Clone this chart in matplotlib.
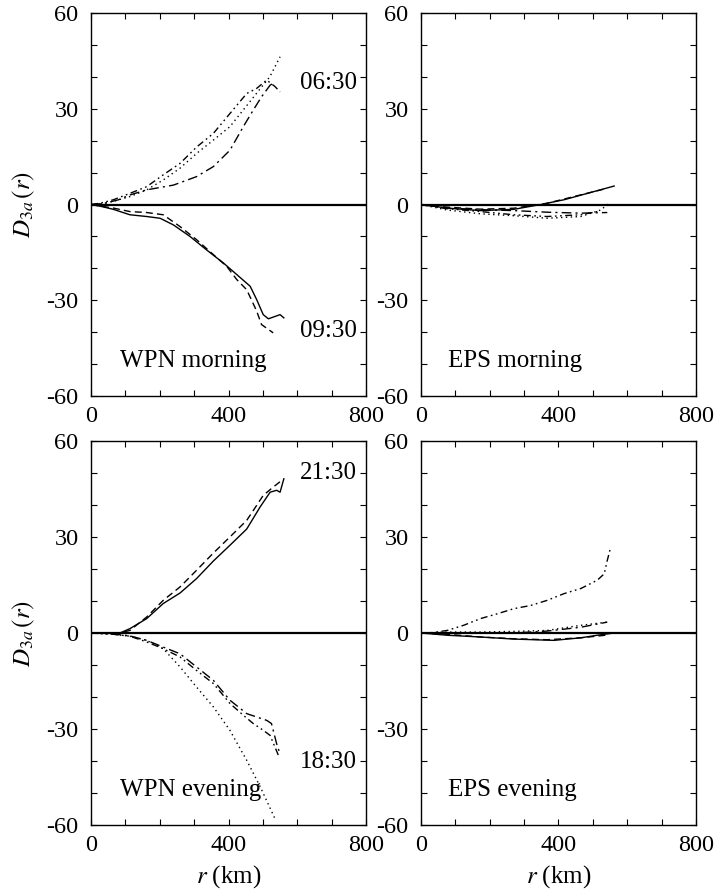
import matplotlib
matplotlib.use("Agg")
import matplotlib.pyplot as plt
from matplotlib.ticker import MultipleLocator, FixedLocator

plt.rcParams['font.family'] = 'serif'
plt.rcParams['font.serif'] = ['Liberation Serif', 'DejaVu Serif']
plt.rcParams['mathtext.fontset'] = 'stix'
plt.rcParams['axes.unicode_minus'] = False

# --- WPN morning ---
wm_solid_r = [0, 30, 65, 113, 162, 201, 240, 288, 336, 385, 414, 463, 482, 501, 516, 550, 561]
wm_solid_d = [0, -0.6, -1.5, -3.2, -3.75, -4.3, -6.4, -10, -14.2, -18.3, -21, -25.6, -29.8, -34.5, -35.8, -34.5, -35.5]
wm_dash_r = [0, 30, 65, 113, 162, 210, 259, 307, 356, 395, 424, 453, 482, 496, 530]
wm_dash_d = [0, -0.5, -1.1, -2.2, -2.5, -3.2, -6.9, -11, -15.7, -19.4, -23.5, -26.7, -33.4, -37.6, -40.2]
wm_dot_r = [0, 30, 65, 113, 162, 210, 259, 307, 356, 404, 453, 490, 520, 550]
wm_dot_d = [0, 0.2, 1.0, 2.5, 4.6, 7.7, 11.4, 16, 20.2, 24.4, 31, 36, 40, 46.3]
wm_dd_r = [0, 40, 80, 113, 162, 240, 307, 356, 404, 443, 472, 496, 521, 535]
wm_dd_d = [0, 0.4, 1.5, 3, 4.6, 6.1, 8.75, 11.9, 17, 24.4, 29.6, 33.75, 37.4, 38.4]
wm_ddd_r = [0, 30, 65, 113, 162, 210, 259, 307, 356, 404, 453, 482, 511, 535, 550]
wm_ddd_d = [0, 0.5, 1.5, 3.5, 5.6, 9.3, 12.9, 18, 22.3, 28.5, 34.8, 36.4, 39, 37, 35.3]

# --- EPS morning ---
em_solid_r = [0, 76, 173, 270, 348, 416, 484, 562]
em_solid_d = [0, -1.1, -1.9, -1.5, 0, 1.5, 3.5, 5.8]
em_dash_r = [0, 76, 173, 270, 367, 445, 542]
em_dash_d = [0, -0.8, -1.45, -1.15, 0.4, 2.5, 5.1]
em_dot_r = [0, 76, 173, 270, 367, 465, 523, 547]
em_dot_d = [0, -1.7, -2.9, -3.5, -4.3, -3.75, -1.7, 0.4]
em_dd_r = [0, 76, 173, 270, 367, 465, 542]
em_dd_d = [0, -1.1, -1.6, -1.9, -2.4, -2.7, -2.5]
em_ddd_r = [0, 76, 173, 270, 367, 465, 513]
em_ddd_d = [0, -1.3, -2.2, -3.2, -3.75, -3.2, -2.2]

# --- WPN evening ---
we_solid_r = [0, 50, 84, 113, 162, 210, 259, 307, 356, 404, 453, 492, 521, 540, 550, 561]
we_solid_d = [0, 0.1, 0, 1.35, 4.5, 9.2, 12.5, 17, 22.5, 27.4, 32.5, 39.4, 44, 44.6, 44, 48.2]
we_dash_r = [0, 50, 84, 113, 162, 210, 259, 307, 356, 404, 453, 501, 530, 555]
we_dash_d = [0, 0.1, 0, 0.8, 5, 10.2, 14.4, 19.6, 25, 30, 35.2, 43, 45.6, 47.7]
we_dot_r = [0, 65, 113, 162, 210, 259, 307, 356, 404, 453, 492, 535]
we_dot_d = [0, -0.4, -1.0, -2.3, -4.9, -10.6, -16.9, -23.1, -30.4, -39.8, -48, -58]
we_dd_r = [0, 65, 113, 162, 210, 259, 307, 356, 404, 453, 482, 511, 525, 540, 548]
we_dd_d = [0, -0.3, -0.9, -2.3, -4.4, -6.5, -10.6, -14.8, -21, -25.2, -26.25, -27.3, -28.3, -34.6, -37.2]
we_ddd_r = [0, 65, 113, 162, 210, 259, 307, 356, 404, 443, 472, 501, 521, 545]
we_ddd_d = [0, -0.4, -1.0, -2.8, -4.9, -7.5, -11.7, -15.8, -22, -25.7, -28.3, -30.4, -32, -38.2]

# --- EPS evening ---
ee_solid_r = [0, 76, 173, 270, 387, 465, 513, 562]
ee_solid_d = [0, -0.7, -1.25, -1.9, -2.3, -1.5, -0.7, 0]
ee_dash_r = [0, 76, 173, 270, 367, 465, 537]
ee_dash_d = [0, -0.4, -1.25, -1.8, -2.1, -1.5, -0.7]
ee_dot_r = [0, 76, 173, 270, 367, 465, 542]
ee_dot_d = [0, 0.3, 0.3, 0.5, 0.8, 2.4, 3.4]
ee_dd_r = [0, 76, 173, 270, 367, 465, 542]
ee_dd_d = [0, 0, 0, 0, 0.6, 1.8, 3.4]
ee_ddd_r = [0, 27, 76, 124, 173, 222, 270, 319, 367, 416, 465, 513, 533, 542, 552]
ee_ddd_d = [0, 0, 0.8, 2.4, 4.5, 6, 7.6, 8.6, 10.2, 12.3, 13.9, 16.5, 18.5, 22.7, 26.9]

styles = ['-', (0, (5, 3)), (0, (1, 2.5)), (0, (7, 3, 1.5, 3)), (0, (5, 2.5, 1.2, 2.5, 1.2, 2.5))]

panels = [
    ('WPN morning', [(wm_solid_r, wm_solid_d), (wm_dash_r, wm_dash_d), (wm_dot_r, wm_dot_d),
                     (wm_dd_r, wm_dd_d), (wm_ddd_r, wm_ddd_d)],
     [('06:30', 38), ('09:30', -39.7)]),
    ('EPS morning', [(em_solid_r, em_solid_d), (em_dash_r, em_dash_d), (em_dot_r, em_dot_d),
                     (em_dd_r, em_dd_d), (em_ddd_r, em_ddd_d)], []),
    ('WPN evening', [(we_solid_r, we_solid_d), (we_dash_r, we_dash_d), (we_dot_r, we_dot_d),
                     (we_dd_r, we_dd_d), (we_ddd_r, we_ddd_d)],
     [('21:30', 50), ('18:30', -40.3)]),
    ('EPS evening', [(ee_solid_r, ee_solid_d), (ee_dash_r, ee_dash_d), (ee_dot_r, ee_dot_d),
                     (ee_dd_r, ee_dd_d), (ee_ddd_r, ee_ddd_d)], []),
]

fig = plt.figure(figsize=(7.15, 8.94), dpi=100)
positions = [
    [0.1273, 0.557, 0.3846, 0.4284],
    [0.5888, 0.557, 0.3846, 0.4284],
    [0.1273, 0.0772, 0.3846, 0.4295],
    [0.5888, 0.0772, 0.3846, 0.4295],
]

for k, (name, curves, times) in enumerate(panels):
    ax = fig.add_axes(positions[k])
    ax.axhline(0, color='black', lw=1.6, zorder=1)
    for (r, d), ls in zip(curves, styles):
        ax.plot(r, d, color='black', lw=1.0, linestyle=ls, zorder=2)
    ax.set_xlim(0, 800)
    ax.set_ylim(-60, 60)
    ax.xaxis.set_major_locator(FixedLocator([0, 400, 800]))
    ax.xaxis.set_minor_locator(MultipleLocator(100))
    ax.yaxis.set_major_locator(FixedLocator([-60, -30, 0, 30, 60]))
    ax.yaxis.set_minor_locator(MultipleLocator(10))
    ax.tick_params(which='both', direction='in', top=True, right=True,
                   length=4, width=0.8, labelsize=17.5)
    ax.tick_params(axis='y', pad=9)
    ax.tick_params(axis='x', pad=7)
    for sp in ax.spines.values():
        sp.set_linewidth(1.0)
    xt = 84 if k % 2 == 0 else 79
    ax.text(xt, -49, name, fontsize=18, va='center', ha='left')
    for lab, yv in times:
        ax.text(608, yv, lab, fontsize=18, va='center', ha='left')
    if k % 2 == 0:
        ax.set_ylabel(r'$D_{3a}\,(r)$', fontsize=18)
        ax.yaxis.set_label_coords(-0.196, 0.5)
    if k >= 2:
        ax.set_xlabel(r'$r$ (km)', fontsize=18)
        ax.xaxis.set_label_coords(0.5, -0.1)

fig.savefig('out.png', dpi=100)
